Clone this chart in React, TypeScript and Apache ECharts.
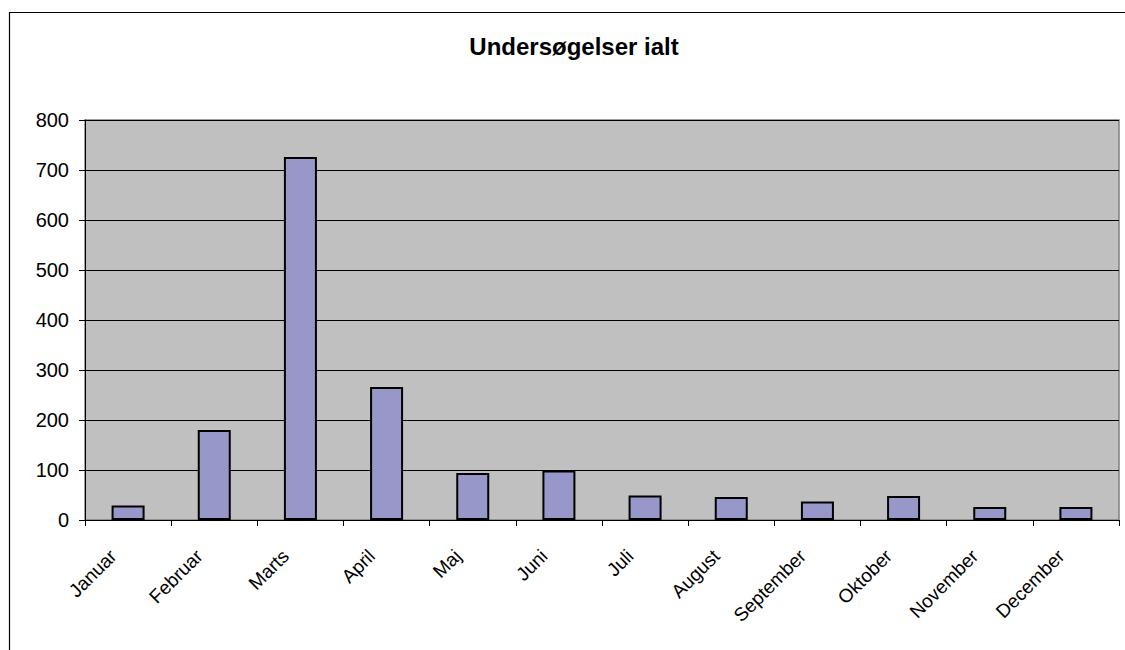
import React, { useEffect, useRef } from "react";
import * as echarts from "echarts";

const chartTitle = "Undersøgelser ialt";
const months = [
  "Januar", "Februar", "Marts", "April", "Maj", "Juni",
  "Juli", "August", "September", "Oktober", "November", "December",
];
const examinations = [29, 180, 726, 266, 94, 99, 49, 46, 37, 48, 26, 26];
const yTicks = { min: 0, max: 800, interval: 100 };

const FONT = "'Liberation Sans', Arial, sans-serif";

export default function App() {
  const ref = useRef<HTMLDivElement>(null);
  useEffect(() => {
    if (!ref.current) return;
    const chart = echarts.init(ref.current, null, { renderer: "svg" });
    chart.setOption({
      animation: false,
      backgroundColor: "#ffffff",
      textStyle: { fontFamily: FONT },
      graphic: [
        {
          type: "rect",
          shape: { x: 9.5, y: 12.5, width: 1300, height: 800 },
          style: { fill: "none", stroke: "#000000", lineWidth: 1.2 },
          silent: true,
          z: 100,
        },
        {
          type: "text",
          x: 574,
          y: 46,
          style: {
            text: chartTitle,
            font: `bold 24px ${FONT}`,
            fill: "#000000",
            textAlign: "center",
            textVerticalAlign: "middle",
          },
        },
      ],
      grid: {
        left: 85,
        top: 120,
        right: 6,
        bottom: 130,
        show: true,
        backgroundColor: "#C0C0C0",
        borderColor: "#808080",
        borderWidth: 1.5,
      },
      xAxis: {
        type: "category",
        data: months,
        boundaryGap: true,
        axisLine: { show: true, lineStyle: { color: "#000000", width: 1 } },
        axisTick: {
          show: true,
          alignWithLabel: false,
          length: 6,
          lineStyle: { color: "#000000", width: 1 },
        },
        axisLabel: {
          rotate: 45,
          interval: 0,
          margin: 18,
          padding: [0, 21, 0, 0],
          color: "#000000",
          fontSize: 19,
          fontFamily: FONT,
        },
        splitLine: { show: false },
      },
      yAxis: {
        type: "value",
        min: yTicks.min,
        max: yTicks.max,
        interval: yTicks.interval,
        axisLine: { show: true, lineStyle: { color: "#000000", width: 1 } },
        axisTick: { show: true, length: 6, lineStyle: { color: "#000000", width: 1 } },
        axisLabel: {
          margin: 16,
          color: "#000000",
          fontSize: 20,
          fontFamily: FONT,
        },
        splitLine: { show: true, lineStyle: { color: "#000000", width: 1 } },
      },
      series: [
        {
          type: "bar",
          data: examinations,
          barWidth: 33,
          itemStyle: {
            color: "#9797CA",
            borderColor: "#000000",
            borderWidth: 2,
          },
        },
      ],
    });
    return () => chart.dispose();
  }, []);
  return (
    <div
      ref={ref}
      style={{ position: "absolute", left: 0, top: 0, width: 1125, height: 650 }}
    />
  );
}
